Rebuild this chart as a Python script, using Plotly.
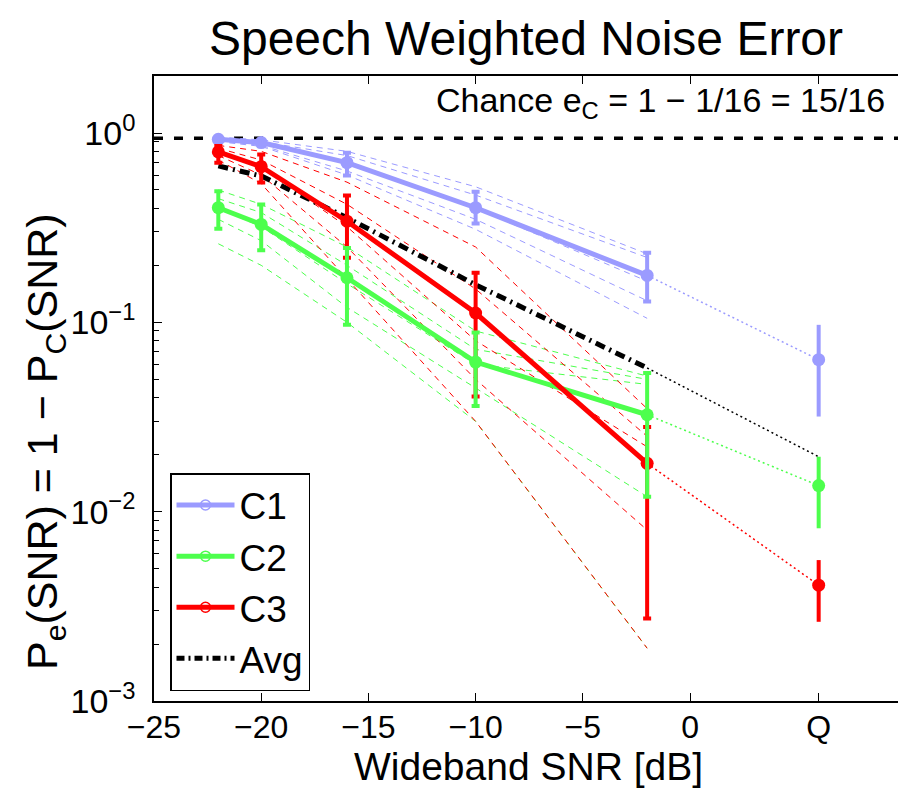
import plotly.graph_objects as go
import numpy as np

# ---------------- data ----------------
snr = [-22, -20, -16, -10, -2]
q_x = 6  # position of the "Q" (quiet) condition on the x axis

c1_mean = [0.926, 0.89, 0.697, 0.403, 0.177]
c1_lo = [0.90, 0.85, 0.597, 0.333, 0.129]
c1_hi = [0.95, 0.92, 0.787, 0.49, 0.233]
c1_q, c1_q_lo, c1_q_hi = 0.0635, 0.0318, 0.097

c2_mean = [0.403, 0.329, 0.172, 0.0617, 0.0325]
c2_lo = [0.312, 0.240, 0.097, 0.0362, 0.012]
c2_hi = [0.493, 0.419, 0.247, 0.0885, 0.054]
c2_q, c2_q_lo, c2_q_hi = 0.01373, 0.00817, 0.0195

c3_mean = [0.794, 0.664, 0.342, 0.112, 0.018]
c3_lo = [0.697, 0.547, 0.219, 0.0406, 0.00273]
c3_hi = [0.853, 0.771, 0.468, 0.183, 0.028]
c3_q, c3_q_lo, c3_q_hi = 0.00409, 0.00262, 0.00555

avg_vals = [0.67, 0.593, 0.357, 0.158, 0.0574]
avg_q = 0.0195

c1_subjects = [
    [0.95, 0.92, 0.80, 0.52, 0.23],
    [0.94, 0.90, 0.76, 0.47, 0.22],
    [0.92, 0.89, 0.70, 0.40, 0.165],
    [0.91, 0.86, 0.63, 0.35, 0.13],
    [0.90, 0.85, 0.60, 0.31, 0.105],
]
c2_subjects = [
    [0.50, 0.42, 0.25, 0.090, 0.052],
    [0.45, 0.38, 0.20, 0.072, 0.050],
    [0.40, 0.32, 0.16, 0.060, 0.047],
    [0.35, 0.27, 0.12, 0.045, 0.012],
    [0.26, 0.20, 0.10, 0.030, 0.0019],
]
c3_subjects = [
    [0.86, 0.80, 0.55, 0.25, 0.035],
    [0.83, 0.72, 0.42, 0.15, 0.025],
    [0.80, 0.66, 0.32, 0.08, 0.022],
    [0.76, 0.60, 0.25, 0.05, 0.008],
    [0.72, 0.54, 0.17, 0.03, 0.0019],
]
chance = 15 / 16

x_tickvals = [-25, -20, -15, -10, -5, 0, q_x]
x_ticktext = ["\u221225", "\u221220", "\u221215", "\u221210", "\u22125", "0", "Q"]
y_tickvals = [1e-3, 1e-2, 1e-1, 1e0]
y_ticktext = ["10<sup>\u22123</sup>", "10<sup>\u22122</sup>", "10<sup>\u22121</sup>", "10<sup>0</sup>"]

# ---------------- styles ----------------
COL1 = "#9B9BFF"
COL2 = "#4DFF4D"
COL3 = "#FF0000"
FONT = "Liberation Sans, Arial, sans-serif"

fig = go.Figure()

# chance line
fig.add_trace(go.Scatter(x=[-25, 9.7], y=[chance, chance], mode="lines",
                         line=dict(color="black", width=3.5, dash="9px,11px"),
                         showlegend=False, hoverinfo="skip"))

# individual subject dashed lines
for subs, col in [(c1_subjects, COL1), (c2_subjects, COL2), (c3_subjects, COL3)]:
    for s in subs:
        fig.add_trace(go.Scatter(x=snr, y=s, mode="lines",
                                 line=dict(color=col, width=1, dash="6px,5px"),
                                 showlegend=False, hoverinfo="skip"))

# dotted extrapolation to Q
for y0, yq, col in [(c1_mean[-1], c1_q, COL1), (c2_mean[-1], c2_q, COL2),
                    (c3_mean[-1], c3_q, COL3), (avg_vals[-1], avg_q, "black")]:
    fig.add_trace(go.Scatter(x=[snr[-1], q_x], y=[y0, yq], mode="lines",
                             line=dict(color=col, width=1.5, dash="2px,3px"),
                             showlegend=False, hoverinfo="skip"))

# average line
fig.add_trace(go.Scatter(x=snr, y=avg_vals, mode="lines",
                         line=dict(color="black", width=5, dash="10px,5px,2px,5px"),
                         showlegend=False))


def err(mean, lo, hi):
    return dict(type="data", symmetric=False,
                array=[h - m for m, h in zip(mean, hi)],
                arrayminus=[m - l for m, l in zip(mean, lo)])


# C1 full
fig.add_trace(go.Scatter(x=snr, y=c1_mean, mode="lines+markers",
                         line=dict(color=COL1, width=5),
                         marker=dict(color=COL1, size=13),
                         error_y=dict(err(c1_mean, c1_lo, c1_hi), color=COL1, thickness=4, width=4),
                         showlegend=False))
fig.add_trace(go.Scatter(x=[q_x], y=[c1_q], mode="markers",
                         marker=dict(color=COL1, size=13),
                         error_y=dict(err([c1_q], [c1_q_lo], [c1_q_hi]), color=COL1, thickness=4, width=0),
                         showlegend=False))

# C2 and C3 lines
fig.add_trace(go.Scatter(x=snr, y=c2_mean, mode="lines", line=dict(color=COL2, width=5), showlegend=False))
fig.add_trace(go.Scatter(x=snr, y=c3_mean, mode="lines", line=dict(color=COL3, width=5), showlegend=False))

# C3 then C2 markers + error bars
for mean, lo, hi, q, qlo, qhi, col in [
        (c3_mean, c3_lo, c3_hi, c3_q, c3_q_lo, c3_q_hi, COL3),
        (c2_mean, c2_lo, c2_hi, c2_q, c2_q_lo, c2_q_hi, COL2)]:
    fig.add_trace(go.Scatter(x=snr, y=mean, mode="markers",
                             marker=dict(color=col, size=13),
                             error_y=dict(err(mean, lo, hi), color=col, thickness=4, width=4),
                             showlegend=False))
    fig.add_trace(go.Scatter(x=[q_x], y=[q], mode="markers",
                             marker=dict(color=col, size=13),
                             error_y=dict(err([q], [qlo], [qhi]), color=col, thickness=4, width=0),
                             showlegend=False))

# legend-only entries
for name, col in [("C1", COL1), ("C2", COL2), ("C3", COL3)]:
    fig.add_trace(go.Scatter(x=[None], y=[None], mode="lines+markers", name=name,
                             line=dict(color=col, width=5),
                             marker=dict(symbol="circle-open", color=col, size=10, line=dict(width=1.5))))
fig.add_trace(go.Scatter(x=[None], y=[None], mode="lines", name="Avg",
                         line=dict(color="black", width=5, dash="8px,4px,2px,4px")))

minor_vals = [m * 10.0 ** e for e in (-3, -2, -1, 0) for m in range(2, 10) if m * 10.0 ** e < 2.01]

fig.update_layout(
    width=898, height=788,
    margin=dict(l=154, r=0, t=76, b=87),
    paper_bgcolor="white", plot_bgcolor="white",
    font=dict(family=FONT, color="black"),
    title=dict(text="Speech Weighted Noise Error", x=0.5, xref="paper", xanchor="center",
               y=1 - 38 / 788, yref="container", yanchor="middle",
               font=dict(size=48, family=FONT, color="black")),
    xaxis=dict(range=[-25, 9.7], tickvals=x_tickvals, ticktext=x_ticktext,
               ticks="inside", ticklen=8, tickwidth=1, tickcolor="black",
               showline=True, linecolor="black", linewidth=1.5, mirror="ticks",
               showgrid=False, zeroline=False, ticklabelstandoff=-3,
               tickfont=dict(size=32, family=FONT, color="black")),
    yaxis=dict(type="log", range=[-3, np.log10(2)], tickvals=y_tickvals, ticktext=y_ticktext,
               ticks="inside", ticklen=8, tickwidth=1, tickcolor="black",
               minor=dict(tickvals=minor_vals, ticks="inside", ticklen=5, tickcolor="black", tickwidth=1),
               showline=True, linecolor="black", linewidth=1.5, mirror=False,
               showgrid=False, zeroline=False, ticklabelstandoff=10,
               tickfont=dict(size=34, family=FONT, color="black")),
    legend=dict(x=(170 - 154) / 744, y=(701 - 473) / 625, xanchor="left", yanchor="top",
                bgcolor="white", bordercolor="black", borderwidth=1.5,
                font=dict(size=37, family=FONT, color="black"), itemwidth=58,
                tracegroupgap=0),
    annotations=[
        dict(text="Chance e<sub>C</sub> = 1 \u2212 1/16 = 15/16",
             xref="paper", x=0.985, xanchor="right",
             yref="y", y=0.162, yanchor="middle", showarrow=False,
             font=dict(size=34, family=FONT, color="black")),
        dict(text="P<sub>e</sub>(SNR) = 1 \u2212 P<sub>C</sub>(SNR)",
             xref="paper", x=-(154 - 45) / 744, xanchor="center",
             yref="paper", y=(701 - 442) / 625, yanchor="middle",
             textangle=-90, showarrow=False,
             font=dict(size=43, family=FONT, color="black")),
        dict(text="Wideband SNR [dB]",
             xref="paper", x=(528 - 154) / 744, xanchor="center",
             yref="paper", y=(701 - 766) / 625, yanchor="middle",
             showarrow=False,
             font=dict(size=39, family=FONT, color="black")),
    ],
)

fig.write_html("out.html")
